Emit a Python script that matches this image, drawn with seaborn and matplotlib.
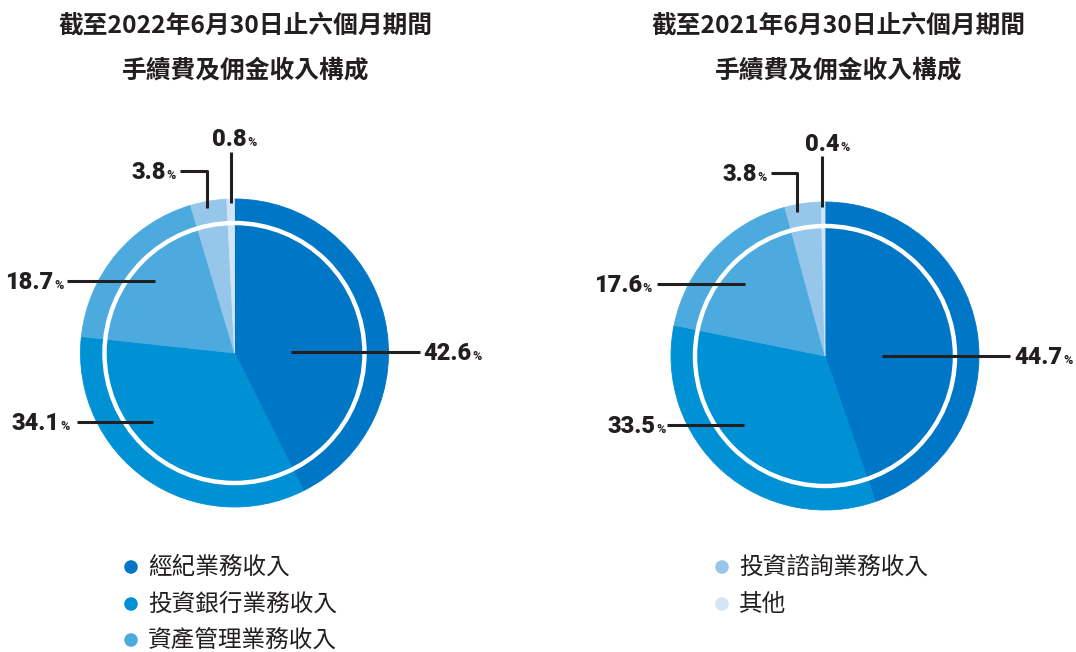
import matplotlib
matplotlib.use("Agg")
import matplotlib.pyplot as plt
import seaborn as sns

# data
categories = ["經紀業務收入", "投資銀行業務收入", "資產管理業務收入", "投資諮詢業務收入", "其他"]
share_2022 = [42.6, 34.1, 18.7, 3.8, 0.8]
share_2021 = [44.7, 33.5, 17.6, 3.8, 0.4]
titles = ["截至2022年6月30日止六個月期間\n手續費及佣金收入構成",
          "截至2021年6月30日止六個月期間\n手續費及佣金收入構成"]

sns.set_theme(style="white")
plt.rcParams["font.family"] = ["Noto Sans CJK TC", "DejaVu Sans"]
palette = sns.color_palette(["#0076C6", "#0091D5", "#4DAADF", "#96C6EA", "#D2E5F6"])
ink = "#231F20"

fig = plt.figure(figsize=(10.76, 6.52), dpi=100)
ax = fig.add_axes([0, 0, 1, 1])

# layout in pixel units (y grows downward)
centers = [(234.5, 353), (825, 356)]
R_OUT, R_RING = 154, 130
# per slice: (line points, text anchor x, baseline y, side)
leaders = [
    [([(291, 352), (420, 352)], 423, 360, "left"),
     ([(153, 422), (77, 422)], 70, 430, "right"),
     ([(155, 281), (67, 281)], 64, 289, "right"),
     ([(207, 208), (207, 171), (180, 171)], 176, 179, "right"),
     ([(231, 203), (231, 152)], 212, 146, "left")],
    [([(882, 356), (1010, 356)], 1014, 364, "left"),
     ([(744, 425), (667, 425)], 666, 433, "right"),
     ([(745, 284), (657, 284)], 652, 292, "right"),
     ([(797, 212), (797, 173), (771, 173)], 767, 181, "right"),
     ([(822, 207), (822, 156)], 805, 151, "left")],
]

for (cx, cy), vals, title, lead, tx in zip(centers, [share_2022, share_2021], titles, leaders, [246, 839]):
    wedges, _ = ax.pie(vals, colors=palette, startangle=-90, counterclock=True, radius=R_OUT,
                       center=(cx, cy), frame=True, wedgeprops=dict(linewidth=0.6))
    for w in wedges:
        w.set_edgecolor(w.get_facecolor())
    ax.add_patch(plt.Circle((cx, cy), R_RING, fill=False, ec="white", lw=3.2, zorder=3))
    t1, t2 = title.split("\n")
    ax.text(tx, 26, t1, ha="center", va="center", fontsize=17.8, fontweight="bold", color=ink)
    ax.text(tx, 70, t2, ha="center", va="center", fontsize=17.8, fontweight="bold", color=ink)
    for (pts, _, _, _) in lead:
        xs, ys = zip(*pts)
        ax.plot(xs, ys, color=ink, lw=2.2, solid_capstyle="butt", zorder=4)

ax.set_xlim(0, 1076)
ax.set_ylim(652, 0)
ax.set_aspect("auto")
ax.axis("off")

# number labels with a small % sign
fig.canvas.draw()
renderer = fig.canvas.get_renderer()
inv = ax.transData.inverted()
num_kw = dict(fontsize=17, fontweight="heavy", color=ink, family="Roboto", va="baseline")
pct_kw = dict(fontsize=9, fontweight="bold", color=ink, family="Roboto", va="baseline")
for vals, lead in zip([share_2022, share_2021], leaders):
    for v, (_, x, y, side) in zip(vals, lead):
        if side == "left":
            t = ax.text(x, y, f"{v:.1f}", ha="left", **num_kw)
            x1 = inv.transform(t.get_window_extent(renderer).get_points())[1][0]
            ax.text(x1 + 1, y, "%", ha="left", **pct_kw)
        else:
            p = ax.text(x, y, "%", ha="right", **pct_kw)
            x0 = inv.transform(p.get_window_extent(renderer).get_points())[0][0]
            ax.text(x0 - 1, y, f"{v:.1f}", ha="right", **num_kw)

# legend split over two columns
legend_pos = [(131, 567), (131, 604), (131, 640), (722, 567), (722, 604)]
for cat, col, (lx, ly) in zip(categories, palette, legend_pos):
    ax.scatter([lx], [ly], s=95, color=col, edgecolor="none", zorder=5)
    ax.text(lx + 17, ly, cat, ha="left", va="center", fontsize=17, color=ink, fontweight="light")

fig.savefig("out.png", dpi=100)
